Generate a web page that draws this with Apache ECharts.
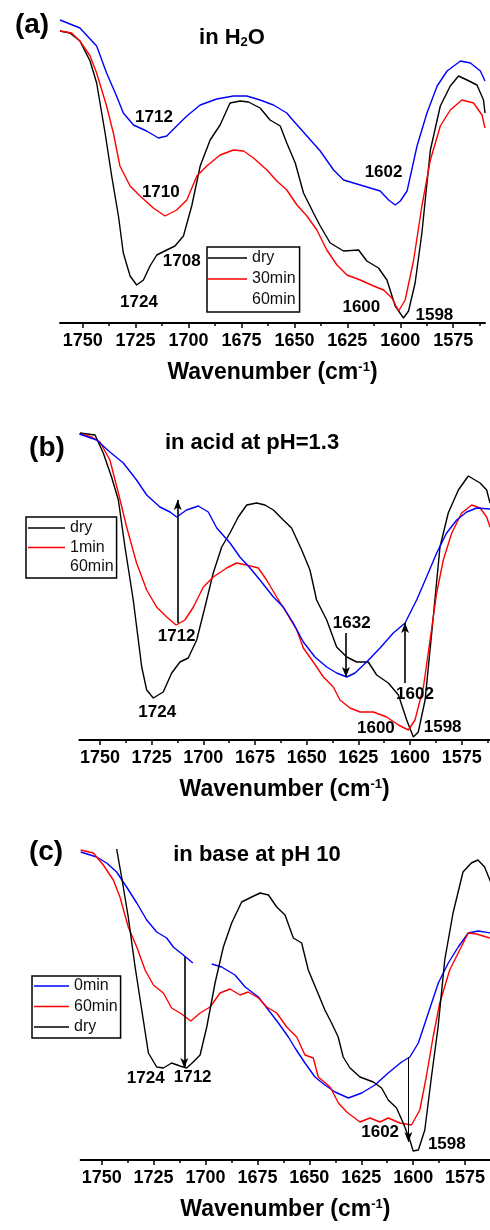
<!DOCTYPE html>
<html>
<head>
<meta charset="utf-8">
<script src="https://cdn.jsdelivr.net/npm/echarts@6/dist/echarts.min.js"></script>
<style>
html, body { margin: 0; padding: 0; background: #fff; }
#chart { width: 490px; height: 1230px; }
</style>
</head>
<body>
<div id="chart"></div>
<script>
// wavenumber ticks (cm-1)
var majorTicks = [1575, 1600, 1625, 1650, 1675, 1700, 1725, 1750];
var minorTicks = [1562.5, 1587.5, 1612.5, 1637.5, 1662.5, 1687.5, 1712.5, 1737.5, 1762.5];

// all curves: [wavenumber, signal (arb. units)]
// (a) in H2O
var aDry = [[1760.7,292],[1756,290],[1751.3,282],[1746.5,262],[1743.4,240],[1739.4,190],[1736.3,147],[1733.1,107],[1730.8,70],[1727.6,47],[1724.5,38],[1721.3,43],[1718.2,57],[1715,68],[1710.3,73],[1706.4,77],[1702.4,87],[1698.5,117],[1694.5,157],[1689.8,183],[1685.1,198],[1680.4,220],[1675.6,222],[1671.7,221],[1666.2,215],[1661.5,203],[1656.7,197],[1653.6,180],[1649.6,160],[1645.7,130],[1641,110],[1637.8,97],[1633.1,80],[1626.8,72],[1619.7,73],[1615.8,62],[1610.3,55],[1606.3,43],[1602.4,17],[1598.5,5],[1596.1,12],[1593,40],[1589.8,90],[1585.8,173],[1581.1,217],[1576.4,237],[1572.5,247],[1568.5,243],[1563.8,238],[1560.7,223],[1560,210]];
var a30min = [[1760.7,292],[1755.2,290],[1751.3,282],[1746.5,267],[1743.4,250],[1738.7,217],[1735.5,190],[1732.4,157],[1727.6,137],[1722.9,127],[1716.6,115],[1711.1,107],[1705.6,113],[1700.8,123],[1696.1,147],[1691.4,157],[1685.1,168],[1678.8,173],[1674,172],[1669.3,165],[1663,153],[1658.3,142],[1653.6,133],[1648.8,118],[1644.1,107],[1639.4,93],[1634.7,73],[1629.9,58],[1625.2,48],[1618.9,43],[1612.6,37],[1607.9,33],[1604,25],[1600.8,12],[1597.7,23],[1593.7,63],[1589.8,117],[1585.8,163],[1581.1,197],[1576.4,213],[1570.9,223],[1565.4,220],[1561.4,208],[1560,195]];
var a60min = [[1760.7,303],[1751.3,295],[1743.4,277],[1738.7,250],[1734,227],[1730.8,210],[1726,198],[1719.8,192],[1714.2,185],[1710.3,187],[1705.6,197],[1700.8,207],[1694.5,218],[1686.7,224],[1678.8,227],[1672.5,227],[1666.2,223],[1659.9,218],[1653.6,210],[1650.4,202],[1644.1,187],[1637.8,172],[1631.5,153],[1626.8,143],[1618.9,138],[1609.5,132],[1605.5,123],[1602.4,118],[1600,122],[1596.8,132],[1592.1,177],[1587.4,210],[1582.6,237],[1577.9,252],[1571.6,262],[1566.9,260],[1562.2,252],[1560,242]];
var aLabels = [[1716.3,206,'1712'],[1713.1,131,'1710'],[1703.2,62,'1708'],[1723.4,21,'1724'],[1607.9,151,'1602'],[1618.4,16,'1600'],[1583.9,8,'1598']];

// (b) in acid at pH=1.3
var bDry = [[1759.7,307],[1752.4,305],[1748.4,287],[1744.4,263],[1741.1,240],[1737.9,193],[1733.9,140],[1729.8,73],[1727.4,50],[1724.2,42],[1719.4,48],[1715.3,67],[1711.3,78],[1707.3,82],[1703.2,100],[1699.2,133],[1695.2,167],[1691.1,193],[1687.1,207],[1683.1,223],[1679,235],[1674.2,237],[1670.2,235],[1666.1,230],[1661.3,220],[1657.3,212],[1652.4,190],[1648.4,170],[1645.2,140],[1640.3,120],[1635.5,93],[1630.6,83],[1625.8,78],[1620.2,78],[1616.1,65],[1610.5,57],[1605.6,45],[1601.6,20],[1598.4,3],[1596,8],[1592.7,40],[1589.5,107],[1585.5,193],[1581.5,227],[1576.6,250],[1571.8,264],[1566.1,257],[1562.9,250],[1561.3,237]];
var b1min = [[1758.9,306],[1754,303],[1750,298],[1745.2,280],[1741.1,247],[1737.1,213],[1732.3,177],[1727.4,150],[1722.6,133],[1717.7,123],[1713.2,115],[1708.9,120],[1704.8,133],[1700,153],[1695.2,163],[1688.7,172],[1683.9,177],[1679,175],[1673.4,172],[1669.4,160],[1664.5,143],[1659.7,127],[1654.8,110],[1651.6,92],[1646.8,78],[1641.9,63],[1637.1,53],[1633.9,40],[1629,32],[1624.2,28],[1617.7,28],[1611.3,23],[1605.6,15],[1600.8,10],[1597.6,20],[1593.5,53],[1590.3,100],[1587.1,147],[1583.9,180],[1579.8,207],[1575,227],[1570.2,235],[1566.1,232],[1562.9,223],[1561.3,213]];
var b60min = [[1760,306],[1751.6,300],[1745.2,288],[1738.7,277],[1732.3,260],[1727.4,245],[1721,233],[1716.1,228],[1712.9,223],[1708.1,230],[1702.4,234],[1697.6,228],[1693.5,212],[1687.1,197],[1682.3,183],[1677.4,172],[1672.6,160],[1666.1,143],[1661.3,133],[1656.5,117],[1651.6,98],[1646,83],[1640.3,73],[1635.5,67],[1630.6,63],[1626.6,67],[1621,78],[1614.5,92],[1608.1,107],[1602.4,117],[1596.8,140],[1592,163],[1587.1,187],[1582.3,207],[1577.4,220],[1572.6,228],[1567.7,232],[1561.3,231]];
var bLabels = [[1712.9,104,'1712'],[1722.3,28,'1724'],[1628.2,117,'1632'],[1597.6,46,'1602'],[1616.5,12,'1600'],[1584.2,13,'1598']];
var bArrows = [[1712.4,117,240],[1631,107,63],[1602.4,57,117]];

// (c) in base at pH 10
var c0min = [[1760.1,308],[1752.4,303],[1747.6,297],[1742.8,288],[1738,273],[1733.1,257],[1728.3,240],[1723.5,228],[1718.7,222],[1715.5,213],[1710.7,205],[1706.1,197],[1701.5,null],[1697,196],[1692.2,193],[1685.8,185],[1680.9,173],[1674.5,163],[1669.7,150],[1664.9,137],[1660.1,123],[1656.9,112],[1652.1,97],[1647.3,83],[1642.5,75],[1637.6,68],[1631.2,62],[1624.8,67],[1618.4,75],[1612,87],[1605.6,98],[1601.6,103],[1597.5,117],[1592.7,147],[1587.9,177],[1583.1,197],[1578.3,213],[1573.5,227],[1568.7,229],[1562.5,227]];
var c60min = [[1760.1,310],[1754,307],[1749.2,295],[1744.4,280],[1741.2,263],[1737.2,233],[1733.1,213],[1729.1,190],[1725.1,175],[1720.3,167],[1716.3,152],[1711.5,146],[1707.1,139],[1702.6,147],[1697.8,153],[1693,167],[1688.2,171],[1683.4,165],[1679.4,168],[1674.5,162],[1670.5,153],[1665.7,147],[1660.9,133],[1656.1,123],[1652.1,105],[1648.1,102],[1645.7,83],[1640,73],[1636,57],[1632,48],[1625.6,38],[1620.8,42],[1616,38],[1612,42],[1606.4,37],[1600.8,35],[1596.8,50],[1593.7,83],[1590.4,123],[1587.2,157],[1582.4,190],[1577.6,210],[1573.5,227],[1569.5,226],[1563.1,222]];
var cDry = [[1742.8,311],[1740.4,283],[1737.2,243],[1733.9,193],[1730.7,150],[1727.5,107],[1723.5,93],[1720.3,92],[1716.3,97],[1712.3,94],[1709.1,92],[1705.9,98],[1702.6,105],[1699.4,133],[1695.4,177],[1691.4,213],[1687.4,237],[1682.6,258],[1677.8,263],[1673.7,267],[1669.7,265],[1665.7,253],[1661.7,245],[1657.7,222],[1653.7,217],[1650.5,190],[1646.5,170],[1642.5,150],[1639.3,137],[1636.1,123],[1633.7,103],[1630.4,92],[1625.6,83],[1619.2,78],[1615.2,72],[1612,60],[1608,52],[1604.8,37],[1601.6,20],[1600,9],[1597.5,10],[1594.4,30],[1591.2,83],[1588,133],[1584.8,200],[1580.8,247],[1576,288],[1572,297],[1568.8,300],[1565.6,293],[1562.5,277]];
var cLabels = [[1728.8,82,'1724'],[1706.2,83,'1712'],[1615.9,28,'1602'],[1583.8,16,'1598']];
var cArrows = [[1710.2,203,92],[1602.3,103,18]];

var FONT = '"Liberation Sans", Arial, sans-serif';
var BLACK = '#000', RED = '#ff0000', BLUE = '#0000ff';

var panels = [
    {
        key: 'a', grid: {left: 60, top: 13, width: 425, height: 310}, min: 1560, max: 1760.7, yMax: 310,
        curves: [['dry', aDry, BLACK], ['30min', a30min, RED], ['60min', a60min, BLUE]],
        noIcon: ['60min'], labels: aLabels, arrows: [], arrowWidth: [],
        legend: {left: 207, top: 247, itemWidth: 39, itemGap: 5, padding: [3, 4, 4, 1]}
    },
    {
        key: 'b', grid: {left: 79.3, top: 425, width: 410.7, height: 315}, min: 1561.3, max: 1760, yMax: 315,
        curves: [['dry', bDry, BLACK], ['1min', b1min, RED], ['60min', b60min, BLUE]],
        noIcon: ['60min'], labels: bLabels, arrows: bArrows, arrowWidth: [1.6, 1.6, 1.6],
        legend: {left: 26, top: 517, itemWidth: 37, itemGap: 3.5, padding: [3, 3, 3, 2]}
    },
    {
        key: 'c', grid: {left: 80.7, top: 845, width: 409.3, height: 315}, min: 1563, max: 1760.1, yMax: 315,
        curves: [['0min', c0min, BLUE], ['60min', c60min, RED], ['dry', cDry, BLACK]],
        noIcon: [], labels: cLabels, arrows: cArrows, arrowWidth: [1.6, 1],
        legend: {left: 32, top: 976, itemWidth: 35, itemGap: 4.5, padding: [2, 3, 3, 2]}
    }
];

var grids = [], xAxes = [], yAxes = [], series = [], legends = [];

panels.forEach(function (p, i) {
    var g = Object.assign({outerBoundsMode: 'none', containLabel: false}, p.grid);
    grids.push(g);
    // main wavenumber axis
    xAxes.push({
        type: 'value', gridIndex: i, position: 'bottom', inverse: true, min: p.min, max: p.max,
        axisLine: {lineStyle: {color: BLACK, width: 2}},
        axisTick: {customValues: majorTicks, length: 5, lineStyle: {color: BLACK, width: 1.5}},
        axisLabel: {
            customValues: majorTicks, color: BLACK, fontSize: 18, fontWeight: 'bold', fontFamily: FONT, margin: 9,
            formatter: function (v) { return String(v); }
        },
        splitLine: {show: false},
        name: 'Wavenumber (cm{sup|-1})', nameLocation: 'middle', nameGap: 38,
        nameTextStyle: {
            fontSize: 23, fontWeight: 'bold', color: BLACK, fontFamily: FONT,
            rich: {sup: {fontSize: 13, fontWeight: 'bold', color: BLACK, fontFamily: FONT, verticalAlign: 'top'}}
        }
    });
    // minor ticks
    xAxes.push({
        type: 'value', gridIndex: i, position: 'bottom', inverse: true, min: p.min, max: p.max,
        axisLine: {show: false},
        axisTick: {customValues: minorTicks, length: 3, lineStyle: {color: BLACK, width: 1.5}},
        axisLabel: {show: false},
        splitLine: {show: false}
    });
    yAxes.push({type: 'value', gridIndex: i, min: 0, max: p.yMax, show: false});

    var xi = i * 2;
    var legendData = [];
    p.curves.forEach(function (c) {
        var id = p.key + ':' + c[0];
        series.push({
            name: id, type: 'line', xAxisIndex: xi, yAxisIndex: i,
            data: c[1], showSymbol: false, symbol: 'none', smooth: false,
            lineStyle: {color: c[2], width: 1.4}, itemStyle: {color: c[2]},
            silent: true
        });
        var item = {name: id};
        if (p.noIcon.indexOf(c[0]) >= 0) item.itemStyle = {opacity: 0};
        legendData.push(item);
    });

    series.push({
        name: p.key + ':labels', type: 'scatter', xAxisIndex: xi, yAxisIndex: i,
        symbolSize: 0, silent: true, z: 5,
        itemStyle: {opacity: 1},
        data: p.labels.map(function (d) { return {value: [d[0], d[1]], name: d[2]}; }),
        label: {
            show: true, position: 'inside', formatter: '{b}',
            color: BLACK, fontSize: 17, fontWeight: 'bold', fontFamily: FONT
        },
        markLine: {
            silent: true, animation: false, symbol: ['none', 'arrow'], symbolSize: [6, 10],
            label: {show: false},
            lineStyle: {color: BLACK, width: 1.6, type: 'solid', opacity: 1},
            data: p.arrows.map(function (a, k) {
                return [
                    {coord: [a[0], a[1]], lineStyle: {width: p.arrowWidth[k]}},
                    {coord: [a[0], a[2]]}
                ];
            })
        }
    });

    legends.push({
        orient: 'vertical', left: p.legend.left, top: p.legend.top,
        padding: p.legend.padding, itemGap: p.legend.itemGap,
        itemWidth: p.legend.itemWidth, itemHeight: 1.5, icon: 'rect',
        selectedMode: false, backgroundColor: '#fff',
        borderColor: BLACK, borderWidth: 1.5, borderRadius: 0,
        formatter: function (name) { return name.split(':')[1]; },
        textStyle: {color: '#111', fontSize: 16, fontFamily: FONT, lineHeight: 16},
        data: legendData
    });
});

function txt(x, y, text, size, rich) {
    return {
        type: 'text', x: x, y: y, silent: true,
        style: {
            text: text, fill: BLACK, font: 'bold ' + size + 'px ' + FONT,
            textAlign: 'center', textVerticalAlign: 'middle', rich: rich || {}
        }
    };
}

var graphics = [
    txt(32, 25, '(a)', 28),
    txt(232, 38, 'in H{sub|2}O', 22, {sub: {fontSize: 13, fontWeight: 'bold', fontFamily: FONT, fill: BLACK, verticalAlign: 'bottom'}}),
    txt(47, 448, '(b)', 28),
    txt(252, 443, 'in acid at pH=1.3', 22),
    txt(46, 852, '(c)', 28),
    txt(257, 855, 'in base at pH 10', 22)
];

var chart = echarts.init(document.getElementById('chart'));
chart.setOption({
    animation: false,
    backgroundColor: '#fff',
    grid: grids,
    xAxis: xAxes,
    yAxis: yAxes,
    legend: legends,
    series: series,
    graphic: graphics
});
window.addEventListener('resize', function () { chart.resize(); });
</script>
</body>
</html>
